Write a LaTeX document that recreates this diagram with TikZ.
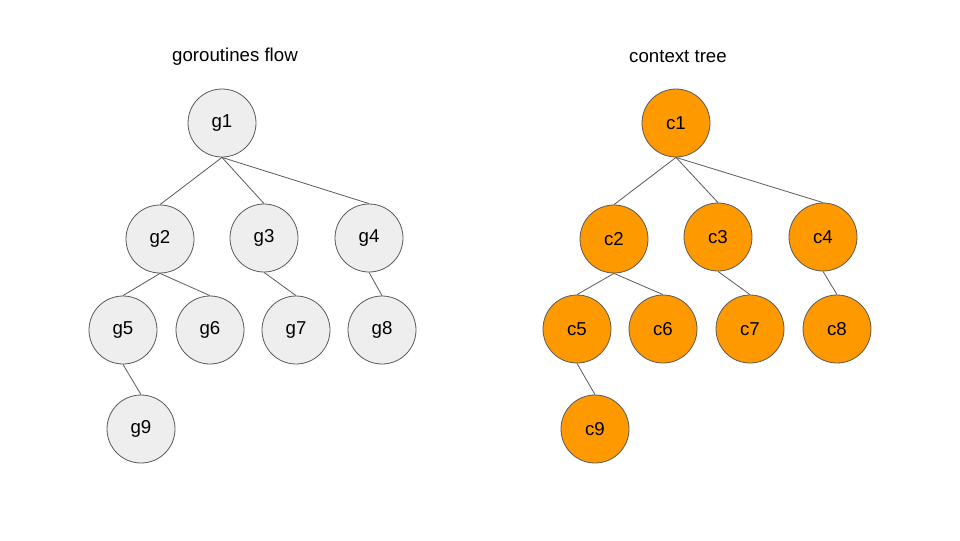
\documentclass[tikz,border=0pt]{standalone}
\usepackage{fontspec}
\setmainfont{Liberation Sans}
\usetikzlibrary{positioning}

\definecolor{cinzaclaro}{HTML}{EEEEEE}
\definecolor{borda}{HTML}{595959}
\definecolor{laranja}{HTML}{FF9900}

\begin{document}
\begin{tikzpicture}[x=0.75pt, y=-0.75pt,
    gor/.style={circle, draw=borda, fill=cinzaclaro, line width=0.6pt, minimum size=51pt, inner sep=0pt, font=\fontsize{14}{16}\selectfont},
    ctx/.style={gor, fill=laranja},
    aresta/.style={draw=borda, line width=0.6pt},
    titulo/.style={font=\fontsize{14}{16}\selectfont}]

    \useasboundingbox (0,0) rectangle (960,540);

    % titulos
    \node[titulo] (tg) at (235,57) {goroutines flow};
    \node[titulo] (tc) at (678,57) {context tree};

    % arvore das goroutines
    \foreach \n/\x/\y in {1/222/123, 2/160/239, 3/264/238, 4/369/238,
                          5/123/330, 6/210/330, 7/296/330, 8/382/330, 9/141/429}
        \node[gor] (g\n) at (\x,\y) {g\n};

    % arvore dos contextos
    \foreach \n/\x/\y in {1/676/123, 2/614/239, 3/718/237, 4/823/237,
                          5/577/329, 6/663/329, 7/750/329, 8/837/329, 9/595/429}
        \node[ctx] (c\n) at (\x,\y) {c\n};

    % ligacoes
    \foreach \a/\b in {1/2, 1/3, 1/4, 2/5, 2/6, 3/7, 4/8, 5/9} {
        \draw[aresta] (g\a.south) -- (g\b.north);
        \draw[aresta] (c\a.south) -- (c\b.north);
    }

\end{tikzpicture}
\end{document}
